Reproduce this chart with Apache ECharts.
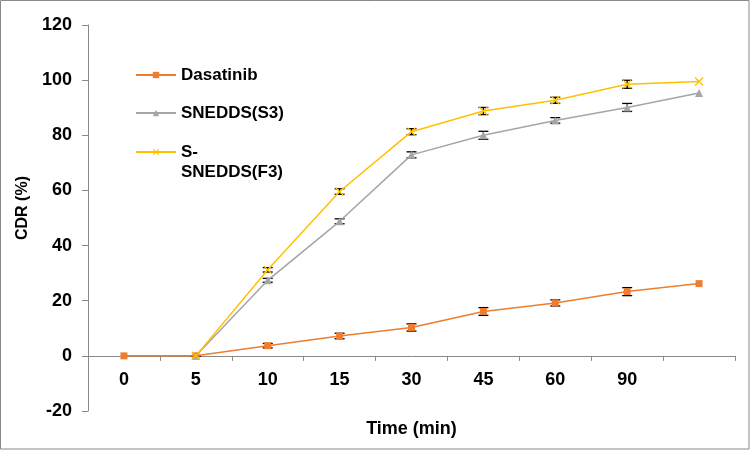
<!DOCTYPE html>
<html>
<head>
<meta charset="utf-8">
<script src="https://cdn.jsdelivr.net/npm/echarts@6/dist/echarts.min.js"></script>
<style>
html,body{margin:0;padding:0;background:#fff;}
#chart{width:750px;height:450px;}
</style>
</head>
<body>
<div id="chart"></div>
<script>
// Categories (time points, min); last category has no printed label
const categories = ['0', '5', '10', '15', '30', '45', '60', '90', ''];

// Series values (CDR %)
const dasatinib = [0, 0, 3.7, 7.2, 10.3, 16.1, 19.2, 23.3, 26.2];
const snedddsS3 = [null, 0, 27.4, 48.8, 72.9, 80.0, 85.4, 90.1, 95.3];
const ssneddsF3 = [null, 0, 31.2, 59.6, 81.3, 88.8, 92.7, 98.5, 99.5];

// Error values (±)
const dasatinibErr = [null, 0, 0.8, 1.0, 1.3, 1.4, 1.1, 1.45, null];
const s3Err = [null, null, 0.7, 0.9, 1.1, 1.45, 1.0, 1.45, null];
const f3Err = [null, null, 0.8, 1.0, 1.1, 1.3, 1.1, 1.45, null];

const seriesNames = ['Dasatinib', 'SNEDDS(S3)', 'S-SNEDDS(F3)'];
const colors = ['#ED7D31', '#A5A5A5', '#FFC000'];

const xSymbol = 'path://M0,1 L1,0 L5,4 L9,0 L10,1 L6,5 L10,9 L9,10 L5,6 L1,10 L0,9 L4,5 Z';

function errData(vals, errs) {
  const out = [];
  vals.forEach((v, i) => {
    if (v != null && errs[i] != null) out.push([i, v, errs[i]]);
  });
  return out;
}

function renderErr(params, api) {
  const i = api.value(0), v = api.value(1), e = api.value(2);
  const top = api.coord([i, v + e]);
  const bot = api.coord([i, v - e]);
  const hw = 5;
  const style = { stroke: '#000', lineWidth: 1.3 };
  return {
    type: 'group',
    children: [
      { type: 'line', shape: { x1: top[0], y1: top[1], x2: bot[0], y2: bot[1] }, style: style },
      { type: 'line', shape: { x1: top[0] - hw, y1: top[1], x2: top[0] + hw, y2: top[1] }, style: style },
      { type: 'line', shape: { x1: bot[0] - hw, y1: bot[1], x2: bot[0] + hw, y2: bot[1] }, style: style }
    ]
  };
}

const fontFam = '"Liberation Sans", Arial, sans-serif';
const legendText = { fontFamily: fontFam, fontWeight: 'bold', fontSize: 17, color: '#000', lineHeight: 20 };

const chart = echarts.init(document.getElementById('chart'), null, { renderer: 'canvas' });
chart.setOption({
  animation: false,
  backgroundColor: '#fff',
  graphic: [{
    type: 'rect', z: -10, silent: true,
    shape: { x: 0.5, y: 0.5, width: 748.5, height: 448.5 },
    style: { fill: 'none', stroke: '#898989', lineWidth: 1 }
  }],
  legend: [
    {
      data: [seriesNames[0]], left: 135, top: 65, padding: 0,
      itemWidth: 40, itemHeight: 8, textStyle: legendText
    },
    {
      data: [seriesNames[1]], left: 135, top: 103, padding: 0,
      itemWidth: 40, itemHeight: 8, textStyle: legendText
    },
    {
      data: [seriesNames[2]], left: 135, top: 122, padding: 0,
      itemWidth: 40, itemHeight: 8,
      formatter: () => ' \nS-\nSNEDDS(F3)',
      textStyle: legendText
    }
  ],
  grid: { left: 88, right: 15, top: 25, bottom: 39, containLabel: false, outerBoundsMode: 'none' },
  xAxis: {
    type: 'category',
    data: categories,
    boundaryGap: true,
    axisLine: { onZero: true, lineStyle: { color: '#898989', width: 1 } },
    axisTick: { show: true, length: 5, alignWithLabel: false, lineStyle: { color: '#898989' } },
    axisLabel: { interval: 0, margin: -40, fontFamily: fontFam, fontWeight: 'bold', fontSize: 18, color: '#000' },
    splitLine: { show: false },
    name: 'Time (min)',
    nameLocation: 'middle',
    nameGap: 9,
    nameTextStyle: { fontFamily: fontFam, fontWeight: 'bold', fontSize: 18, color: '#000' }
  },
  yAxis: {
    type: 'value',
    min: -20, max: 120, interval: 20,
    axisLine: { show: true, lineStyle: { color: '#898989', width: 1 } },
    axisTick: { show: true, length: 6, lineStyle: { color: '#898989' } },
    axisLabel: { margin: 16, fontFamily: fontFam, fontWeight: 'bold', fontSize: 18, color: '#000' },
    splitLine: { show: false },
    name: 'CDR (%)',
    nameLocation: 'middle',
    nameGap: 56,
    nameTextStyle: { fontFamily: fontFam, fontWeight: 'bold', fontSize: 16, color: '#000', padding: [0, 0, 0, 20] }
  },
  series: [
    {
      name: seriesNames[0], type: 'line', data: dasatinib, z: 3,
      symbol: 'rect', symbolSize: 7, showAllSymbol: true,
      lineStyle: { color: colors[0], width: 1.5 },
      itemStyle: { color: colors[0] }
    },
    {
      name: seriesNames[1], type: 'line', data: snedddsS3, z: 3,
      symbol: 'triangle', symbolSize: 8, showAllSymbol: true,
      lineStyle: { color: colors[1], width: 1.5 },
      itemStyle: { color: colors[1] }
    },
    {
      name: seriesNames[2], type: 'line', data: ssneddsF3, z: 3,
      symbol: xSymbol, symbolSize: 9, showAllSymbol: true,
      lineStyle: { color: colors[2], width: 1.5 },
      itemStyle: { color: colors[2] }
    },
    { type: 'custom', z: 2, renderItem: renderErr, data: errData(dasatinib, dasatinibErr), encode: { x: 0, y: 1 }, silent: true },
    { type: 'custom', z: 2, renderItem: renderErr, data: errData(snedddsS3, s3Err), encode: { x: 0, y: 1 }, silent: true },
    { type: 'custom', z: 2, renderItem: renderErr, data: errData(ssneddsF3, f3Err), encode: { x: 0, y: 1 }, silent: true }
  ]
});
</script>
</body>
</html>
